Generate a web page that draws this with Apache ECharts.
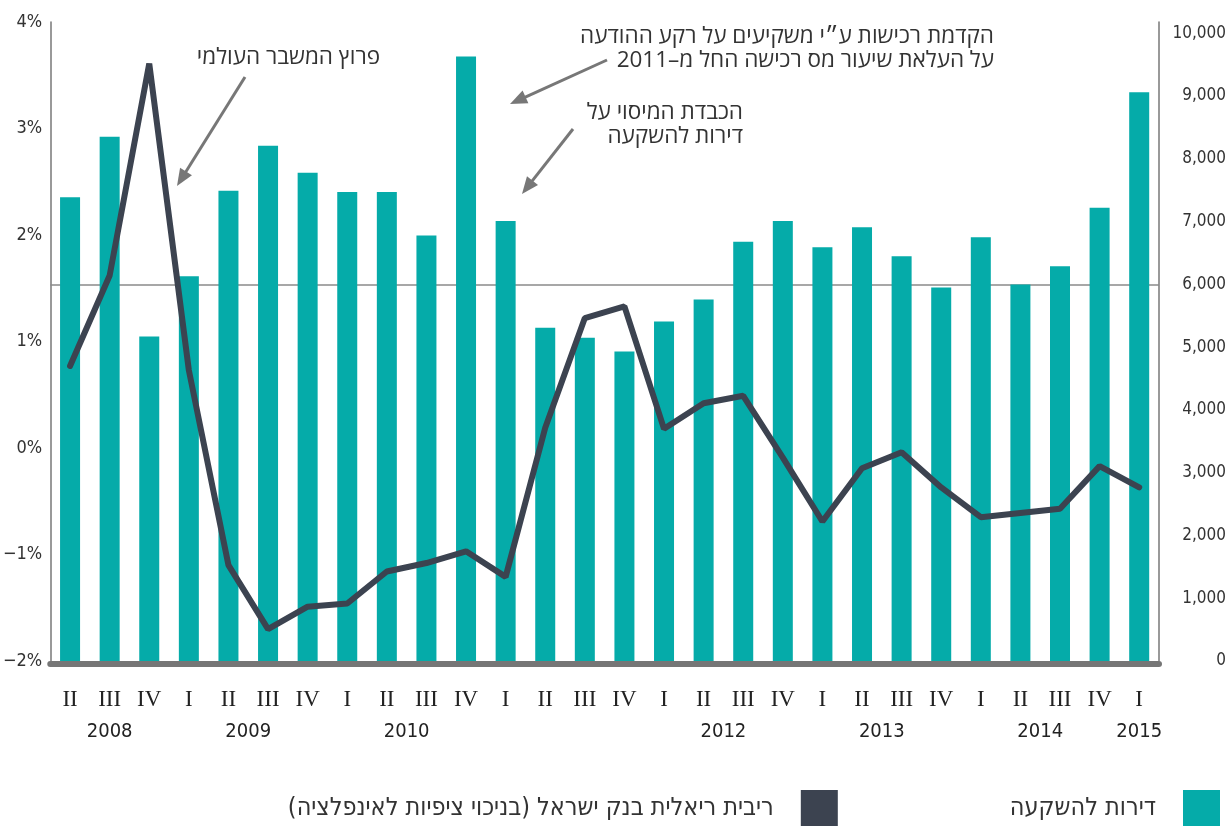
<!DOCTYPE html>
<html>
<head>
<meta charset="utf-8">
<script src="https://cdn.jsdelivr.net/npm/echarts@6/dist/echarts.min.js"></script>
<style>
html,body{margin:0;padding:0;background:#fff;}
#chart{width:1229px;height:826px;}
</style>
</head>
<body>
<div id="chart"></div>
<script>
// ---------- DATA ----------
const quarters = ['II','III','IV','I','II','III','IV','I','II','III','IV','I','II','III','IV','I','II','III','IV','I','II','III','IV','I','II','III','IV','I'];
const quarterYears = [2008,2008,2008,2009,2009,2009,2009,2010,2010,2010,2010,2011,2011,2011,2011,2012,2012,2012,2012,2013,2013,2013,2013,2014,2014,2014,2014,2015];
const shownYears = [2008,2009,2010,2012,2013,2014,2015];
// investment apartments (right axis, units)
const investFlats = [7390,8350,5170,6130,7490,8210,7780,7470,7470,6780,9630,7010,5310,5150,4930,5410,5760,6680,7010,6590,6910,6450,5950,6750,6000,6290,7220,9060];
// Bank of Israel real interest rate (left axis, %)
const realRate = [0.77,1.62,3.61,0.73,-1.10,-1.70,-1.49,-1.46,-1.16,-1.08,-0.97,-1.21,0.19,1.22,1.33,0.18,0.42,0.49,-0.09,-0.69,-0.19,-0.04,-0.37,-0.65,-0.61,-0.57,-0.17,-0.37];
const referenceLine = 6000;
const leftTicks = {min:-2, max:4, interval:1};
const rightTicks = {min:0, max:10180, interval:1000};
const barName = 'דירות להשקעה';
const lineName = 'ריבית ריאלית בנק ישראל (בניכוי ציפיות לאינפלציה)';
const annotations = [
  {lines:['פרוץ המשבר העולמי'], x:380, y:46, from:[245,77], to:[177,186]},
  {lines:['הקדמת רכישות ע״י משקיעים על רקע ההודעה','על העלאת שיעור מס רכישה החל מ–2011'], x:994, y:25, from:[607,60], to:[510,104]},
  {lines:['הכבדת המיסוי על','דירות להשקעה'], x:743, y:101, from:[573,129], to:[522,194]}
];

// ---------- helpers ----------
const rtl = s => '\u202B' + s + '\u202C';
const cats = quarters.map((q,i) => quarterYears[i] + '-' + q + '-' + i);
const yearPos = shownYears.map(y => {
  const idx = quarterYears.map((yy,i)=> yy===y ? i : -1).filter(i=>i>=0);
  return idx.reduce((a,b)=>a+b,0)/idx.length;
});
const narrow = "'Liberation Sans Narrow','DejaVu Sans Condensed','Liberation Sans',sans-serif";
const hebFont = "'Open Sans','Liberation Sans','DejaVu Sans',sans-serif";

function arrowGraphics(a){
  const [x1,y1] = a.from, [x2,y2] = a.to;
  const dx = x2-x1, dy = y2-y1, L = Math.hypot(dx,dy);
  const ux = dx/L, uy = dy/L, hl = 17, hw = 7;
  const bx = x2 - ux*hl, by = y2 - uy*hl;
  return [
    {type:'line', shape:{x1:x1,y1:y1,x2:bx+ux*2,y2:by+uy*2}, style:{stroke:'#777',lineWidth:3}, z:10},
    {type:'polygon', shape:{points:[[x2,y2],[bx - uy*hw, by + ux*hw],[bx + uy*hw, by - ux*hw]]}, style:{fill:'#777'}, z:10}
  ];
}
const graphics = [];
annotations.forEach(a => {
  graphics.push({type:'text', x:a.x, y:a.y, z:10, style:{text:a.lines.map(rtl).join('\n'), align:'right', verticalAlign:'top', font:"22.5px " + hebFont, fill:'#333', lineHeight:24}});
  graphics.push(...arrowGraphics(a));
});

const chart = echarts.init(document.getElementById('chart'), null, {renderer:'canvas'});
const option = {
  animation:false,
  backgroundColor:'#fff',
  grid:{left:49, right:70, top:22, bottom:165, containLabel:false},
  legend:{
    data:[lineName, barName],
    formatter: n => rtl(n),
    top:790, right:9, padding:0,
    align:'right',
    icon:'rect',
    itemWidth:37, itemHeight:36,
    itemGap:172,
    textStyle:{fontFamily:narrow, fontSize:25, color:'#333', padding:[0,22,0,0]}
  },
  xAxis:[
    {type:'category', data:cats, boundaryGap:true, offset:3,
     axisLine:{show:true, onZero:false, lineStyle:{color:'#767676', width:6}},
     axisTick:{show:false},
     axisLabel:{formatter: v => v.split('-')[1], fontFamily:"'Liberation Serif','DejaVu Serif',serif", fontSize:23, color:'#222', margin:24, interval:0}
    },
    {type:'value', min:-0.5, max:27.5, position:'bottom',
     axisLine:{show:false, onZero:false}, axisTick:{show:false}, splitLine:{show:false},
     axisLabel:{customValues:yearPos, formatter: v => { const k = yearPos.indexOf(v); return k>=0 ? String(shownYears[k]) : ''; }, fontFamily:narrow, fontSize:20, color:'#222', margin:61}
    }
  ],
  yAxis:[
    {type:'value', position:'left', min:leftTicks.min, max:leftTicks.max, interval:leftTicks.interval,
     axisLine:{show:true, onZero:false, lineStyle:{color:'#777', width:1.5}}, axisTick:{show:false}, splitLine:{show:false},
     axisLabel:{formatter: v => (v<0 ? '\u2212' + Math.abs(v) : v) + '%', fontFamily:narrow, fontSize:18, color:'#333', margin:8}
    },
    {type:'value', position:'right', min:rightTicks.min, max:rightTicks.max, interval:rightTicks.interval,
     axisLine:{show:true, onZero:false, lineStyle:{color:'#777', width:1.5}}, axisTick:{show:false}, splitLine:{show:false},
     axisLabel:{formatter: v => (v % 1000 === 0 ? v.toLocaleString('en-US') : ''), fontFamily:narrow, fontSize:17, color:'#333', margin:67, align:'right'}
    }
  ],
  series:[
    {name:'ref', type:'line', data:[], xAxisIndex:0, yAxisIndex:1, z:1, silent:true,
     markLine:{silent:true, symbol:'none', z:1, label:{show:false}, lineStyle:{color:'#8a8a8a', width:1.5, type:'solid'}, data:[{yAxis:referenceLine}]}},
    {name:barName, type:'bar', data:investFlats, xAxisIndex:0, yAxisIndex:1, barWidth:20, z:2, itemStyle:{color:'#05ABA9'}},
    {name:lineName, type:'line', data:realRate, xAxisIndex:0, yAxisIndex:0, z:3, showSymbol:false, symbol:'none',
     lineStyle:{color:'#3C4350', width:6, cap:'round', join:'bevel'}, itemStyle:{color:'#3C4350'}}
  ],
  graphic: graphics
};
chart.setOption(option);
</script>
</body>
</html>
